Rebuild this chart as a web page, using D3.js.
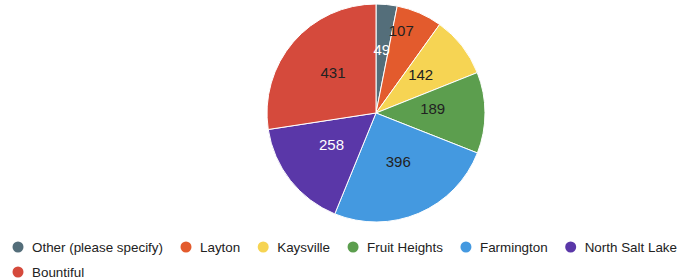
<!DOCTYPE html>
<html>
<head>
<meta charset="utf-8">
<script src="https://cdn.jsdelivr.net/npm/d3@7"></script>
<style>
  body { margin: 0; background: #fff; }
  text { font-family: "Liberation Sans", Arial, sans-serif; }
</style>
</head>
<body>
<div id="chart"></div>
<script>
var width = 679, height = 280;

var categories = ["Other (please specify)", "Layton", "Kaysville", "Fruit Heights", "Farmington", "North Salt Lake", "Bountiful"];
var values = [49, 107, 142, 189, 396, 258, 431];
var colors = ["#546e7a", "#e35b2d", "#f6d453", "#5c9e4e", "#4499e0", "#5a37a8", "#d54a3c"];
var labelColors = ["#fff", "#222", "#222", "#222", "#222", "#fff", "#222"];

var data = categories.map(function(c, i) { return {name: c, value: values[i], i: i}; });

var cx = 376, cy = 113, radius = 109;

var svg = d3.select("#chart").append("svg")
    .attr("width", width)
    .attr("height", height);

var pie = d3.pie().sort(null).value(function(d) { return d.value; });
var arc = d3.arc().innerRadius(0).outerRadius(radius);

var g = svg.append("g").attr("transform", "translate(" + cx + "," + cy + ")");

var arcs = pie(data);

g.selectAll("path").data(arcs).enter().append("path")
    .attr("d", arc)
    .attr("fill", function(d) { return colors[d.data.i]; })
    .attr("stroke", "#fff")
    .attr("stroke-width", 1);

// does the label box fit inside the wedge at distance r?
function fits(d, r, w, h) {
  var a = (d.startAngle + d.endAngle) / 2;
  var x = Math.sin(a) * r, y = -Math.cos(a) * r;
  var corners = [[x - w/2, y - h/2], [x + w/2, y - h/2], [x - w/2, y + h/2], [x + w/2, y + h/2]];
  return corners.every(function(p) {
    var ang = Math.atan2(p[0], -p[1]);
    if (ang < 0) ang += 2 * Math.PI;
    return ang >= d.startAngle && ang <= d.endAngle && Math.hypot(p[0], p[1]) < radius;
  });
}

g.selectAll("text.lbl").data(arcs).enter().append("text")
    .attr("class", "lbl")
    .attr("text-anchor", "middle")
    .attr("dy", "0.1em")
    .style("font-size", "15px")
    .attr("fill", function(d) { return labelColors[d.data.i]; })
    .text(function(d) { return d.data.value; })
    .attr("transform", function(d) {
      var w = String(d.data.value).length * 8, h = 12;
      var r = radius * 0.52;
      var a = (d.startAngle + d.endAngle) / 2;
      if (d.endAngle - d.startAngle > 0.3 && !fits(d, r, w, h)) {
        r = radius * 0.76;
        a -= 0.1;
      } else if (d.endAngle - d.startAngle <= 0.3) {
        r = radius * 0.55;
      }
      return "translate(" + (Math.sin(a) * r) + "," + (-Math.cos(a) * r) + ")";
    });

// legend
var legendRows = [[0, 1, 2, 3, 4, 5], [6]];
var legendY = [247, 272];
legendRows.forEach(function(row, ri) {
  var x = 18;
  row.forEach(function(i) {
    var item = svg.append("g").attr("transform", "translate(" + x + "," + legendY[ri] + ")");
    item.append("circle").attr("r", 5.5).attr("fill", colors[i]);
    var t = item.append("text")
        .attr("x", 14)
        .attr("dy", "0.35em")
        .style("font-size", "13.4px")
        .attr("fill", "#222")
        .text(categories[i]);
    x += 14 + t.node().getComputedTextLength() + 23;
  });
});
</script>
</body>
</html>
